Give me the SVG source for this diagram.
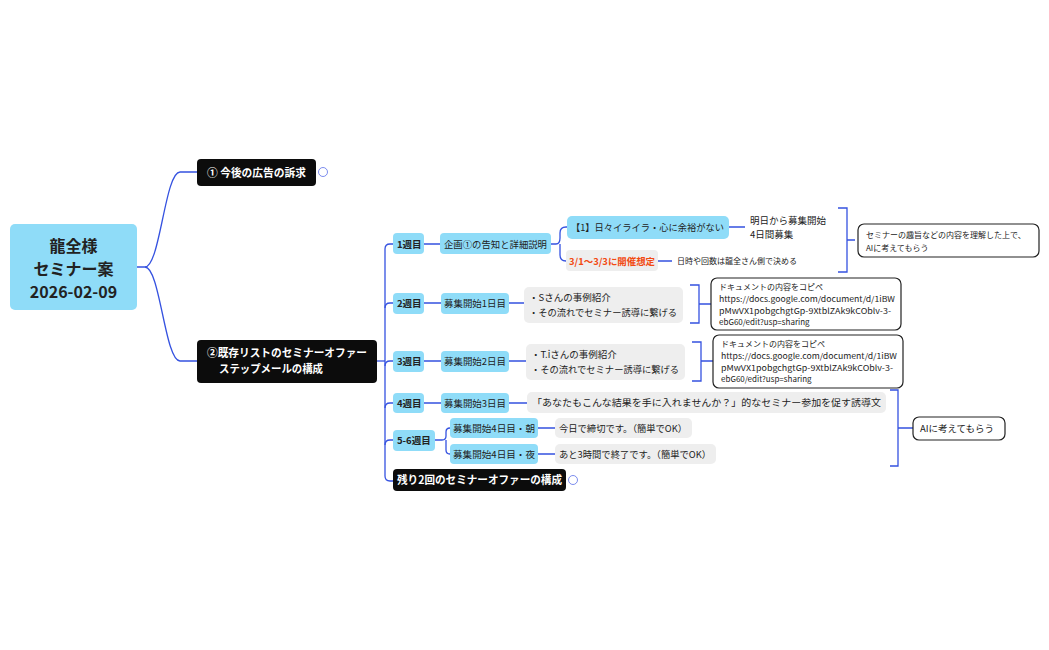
<svg xmlns="http://www.w3.org/2000/svg" width="1049" height="650" viewBox="0 0 1049 650">
<style>
text{font-family:"Noto Sans CJK JP","Noto Sans",sans-serif;fill:#222;font-size:9.5px}
.b{fill:#8fdcf8}
.k{fill:#0c0c0c}
.g{fill:#eeeeee}
.w{fill:#fff;font-weight:bold;font-size:11px}
.bd{font-weight:bold}
.sm{font-size:8px}
.note{fill:#fff;stroke:#222;stroke-width:1.2}
.c{fill:none;stroke:#3552e0;stroke-width:1.3}
.ic{fill:#fff;stroke:#5a6ee8;stroke-width:0.8}
</style>
<rect width="1049" height="650" fill="#fff"/>
<g id="connectors">
<path class="c" d="M137 267H145C160 267 165 172 180 172H197"/>
<path class="c" d="M145 267C160 267 165 361 180 361H197"/>
<path class="c" d="M377 361H385"/>
<path class="c" d="M393 244H390Q385 244 385 249V476Q385 481 390 481H393"/>
<path class="c" d="M385 308Q385 303 390 303H393M385 366Q385 361 390 361H393M385 408Q385 403 390 403H393M385 445Q385 440 390 440H393"/>
<path class="c" d="M424 244H440M424 303H441M424 361H441M424 403H441"/>
<path class="c" d="M551 244H556Q560 244 560 238V233Q560 227 566 227H567M560 244V255Q560 261 566 261"/>
<path class="c" d="M658 261H672M729 227H745"/>
<path class="c" d="M509 303H524M509 361H526M509 403H527"/>
<path class="c" d="M435 440H442Q446 440 446 436V432Q446 428 450 428M446 440V450Q446 454 450 454"/>
<path class="c" d="M538 428H555M538 454H555"/>
<path class="c" d="M838 208H847V272H838M847 240H855"/>
<path class="c" d="M690 285H699V323H690M699 304H711"/>
<path class="c" d="M692 342H701V381H692M701 361H713"/>
<path class="c" d="M890 390H898V466H890M898 428H913"/>
</g>
<g id="root"><rect class="b" x="10" y="224" width="127" height="86" rx="5"/>
<text x="73.5" y="252" text-anchor="middle" class="bd" style="font-size:16px">龍全様</text>
<text x="73.5" y="275" text-anchor="middle" class="bd" style="font-size:16px">セミナー案</text>
<text x="73.5" y="298" text-anchor="middle" class="bd" style="font-size:16px">2026-02-09</text></g>
<g id="n1"><rect class="k" x="197" y="159" width="119" height="27" rx="4"/><text class="w" x="207" y="177" textLength="99" lengthAdjust="spacingAndGlyphs">① 今後の広告の訴求</text>
<circle class="ic" cx="323" cy="172" r="4.5"/></g>
<g id="n2"><rect class="k" x="197" y="340" width="180" height="43" rx="4"/><text class="w" x="207" y="357" textLength="160" lengthAdjust="spacingAndGlyphs">②既存リストのセミナーオファー</text><text class="w" x="219" y="373" textLength="104" lengthAdjust="spacingAndGlyphs">ステップメールの構成</text></g>
<g id="w1"><rect class="b" x="393" y="233" width="31" height="21" rx="4"/><text class="bd" x="397" y="248">1週目</text></g>
<g id="w2"><rect class="b" x="393" y="293" width="31" height="21" rx="4"/><text class="bd" x="397" y="307">2週目</text></g>
<g id="w3"><rect class="b" x="393" y="351" width="31" height="21" rx="4"/><text class="bd" x="397" y="365">3週目</text></g>
<g id="w4"><rect class="b" x="393" y="393" width="31" height="20" rx="4"/><text class="bd" x="397" y="407">4週目</text></g>
<g id="w56"><rect class="b" x="393" y="430" width="42" height="21" rx="4"/><text class="bd" x="397" y="444">5-6週目</text></g>
<g id="rest"><rect class="k" x="393" y="469" width="173" height="22" rx="4"/><text class="w" x="397" y="484" textLength="165" lengthAdjust="spacingAndGlyphs">残り2回のセミナーオファーの構成</text>
<circle class="ic" cx="573" cy="480" r="4.5"/></g>
<g id="k1"><rect class="b" x="440" y="233" width="111" height="21" rx="4"/><text x="444" y="248" textLength="103" lengthAdjust="spacingAndGlyphs">企画①の告知と詳細説明</text></g>
<g id="d1"><rect class="b" x="441" y="293" width="68" height="21" rx="4"/><text x="444" y="307" textLength="62" lengthAdjust="spacingAndGlyphs">募集開始1日目</text></g>
<g id="d2"><rect class="b" x="441" y="351" width="68" height="21" rx="4"/><text x="444" y="365" textLength="62" lengthAdjust="spacingAndGlyphs">募集開始2日目</text></g>
<g id="d3"><rect class="b" x="441" y="393" width="68" height="20" rx="4"/><text x="444" y="407" textLength="62" lengthAdjust="spacingAndGlyphs">募集開始3日目</text></g>
<g id="d4a"><rect class="b" x="450" y="418" width="88" height="20" rx="4"/><text x="453" y="432" textLength="82" lengthAdjust="spacingAndGlyphs">募集開始4日目・朝</text></g>
<g id="d4b"><rect class="b" x="450" y="444" width="88" height="20" rx="4"/><text x="453" y="458" textLength="82" lengthAdjust="spacingAndGlyphs">募集開始4日目・夜</text></g>
<g id="i1"><rect class="b" x="567" y="216" width="162" height="23" rx="5"/><text x="571" y="231" textLength="153" lengthAdjust="spacingAndGlyphs">【1】日々イライラ・心に余裕がない</text></g>
<g id="i1t"><text x="750" y="224">明日から募集開始</text><text x="750" y="238">4日間募集</text></g>
<g id="i2"><rect class="g" x="566" y="250" width="92" height="21" rx="4"/><text x="569" y="265" class="bd" style="fill:#f24a12" textLength="86" lengthAdjust="spacingAndGlyphs">3/1〜3/3に開催想定</text></g>
<g id="i2t"><text x="677" y="264" class="sm">日時や回数は龍全さん側で決める</text></g>
<g id="s1"><rect class="note" x="858" y="224" width="181" height="33" rx="6"/><text x="866" y="238" class="sm">セミナーの趣旨などの内容を理解した上で、</text><text x="866" y="251" class="sm">AIに考えてもらう</text></g>
<g id="g2"><rect class="g" x="524" y="287" width="159" height="36" rx="5"/><text x="529" y="301">・Sさんの事例紹介</text><text x="529" y="316" textLength="148" lengthAdjust="spacingAndGlyphs">・その流れでセミナー誘導に繋げる</text></g>
<g id="g3"><rect class="g" x="526" y="344" width="159" height="36" rx="5"/><text x="531" y="358">・T.iさんの事例紹介</text><text x="531" y="373" textLength="148" lengthAdjust="spacingAndGlyphs">・その流れでセミナー誘導に繋げる</text></g>
<g id="doc1"><rect class="note" x="711" y="278" width="190" height="52" rx="6"/>
<text x="719" y="290" class="sm">ドキュメントの内容をコピペ</text><text x="719" y="302" class="sm" textLength="176" lengthAdjust="spacingAndGlyphs">https://docs.google.com/document/d/1iBW</text><text x="719" y="314" class="sm" textLength="172" lengthAdjust="spacingAndGlyphs">pMwVX1pobgchgtGp-9XtblZAk9kCOblv-3-</text><text x="719" y="325" class="sm">ebG60/edit?usp=sharing</text></g>
<g id="doc2"><rect class="note" x="713" y="335" width="190" height="53" rx="6"/>
<text x="721" y="347" class="sm">ドキュメントの内容をコピペ</text><text x="721" y="359" class="sm" textLength="176" lengthAdjust="spacingAndGlyphs">https://docs.google.com/document/d/1iBW</text><text x="721" y="371" class="sm" textLength="172" lengthAdjust="spacingAndGlyphs">pMwVX1pobgchgtGp-9XtblZAk9kCOblv-3-</text><text x="721" y="382" class="sm">ebG60/edit?usp=sharing</text></g>
<g id="g4"><rect class="g" x="527" y="392" width="359" height="21" rx="5"/><text x="532" y="406" textLength="349" lengthAdjust="spacingAndGlyphs">「あなたもこんな結果を手に入れませんか？」的なセミナー参加を促す誘導文</text></g>
<g id="g5"><rect class="g" x="555" y="418" width="137" height="20" rx="5"/><text x="559" y="432" textLength="128" lengthAdjust="spacingAndGlyphs">今日で締切です。（簡単でOK）</text></g>
<g id="g6"><rect class="g" x="555" y="444" width="161" height="20" rx="5"/><text x="559" y="458" textLength="152" lengthAdjust="spacingAndGlyphs">あと3時間で終了です。（簡単でOK）</text></g>
<g id="ai"><rect class="note" x="913" y="417" width="92" height="23" rx="6"/><text x="920" y="432">AIに考えてもらう</text></g>
</svg>
